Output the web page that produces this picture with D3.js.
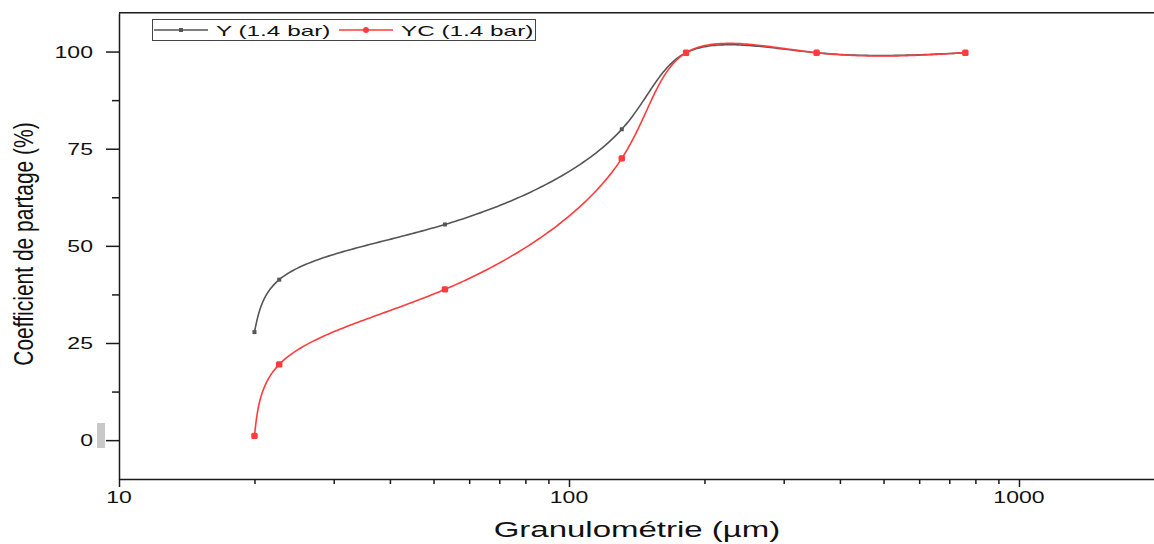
<!DOCTYPE html>
<html>
<head>
<meta charset="utf-8">
<script src="https://cdn.jsdelivr.net/npm/d3@7"></script>
<style>
  html, body { margin: 0; padding: 0; background: #fff; }
  svg { display: block; font-family: "Liberation Sans", Arial, sans-serif; }
</style>
</head>
<body>
<svg id="chart" width="1154" height="544"></svg>
<script>
// Particle size (µm) and partition coefficient (%) for both runs
const sizes   = [20, 22.7, 53, 131, 182, 355, 760];
const seriesY  = [27.8, 41.3, 55.5, 80.0, 99.7, 99.7, 99.7];
const seriesYC = [1.1, 19.5, 38.8, 72.5, 99.7, 99.7, 99.7];
const seriesNames = ["Y (1.4 bar)", "YC (1.4 bar)"];
const yTickVals = [0, 25, 50, 75, 100];
const yMinorVals = [12.5, 37.5, 62.5, 87.5];
const xTickVals = [10, 100, 1000];
const xMinorVals = [20, 30, 40, 50, 60, 70, 80, 90, 200, 300, 400, 500, 600, 700, 800, 900, 2000];

const svg = d3.select("#chart");
const plot = { left: 119, top: 12.7, bottom: 479 };
const decade = 450;
const sx = 1.44; // horizontal stretch used by all text

const x = d3.scaleLog().domain([10, 2000])
  .range([plot.left, plot.left + decade * Math.log10(200)]);
const y = d3.scaleLinear().domain([-10, 110]).range([plot.bottom, plot.top]);

const axisColor = "#1a1a1a";

// Natural cubic spline coefficients (second derivatives) for values V over knots T
function splineM(T, V) {
  const n = T.length;
  const h = d3.range(n - 1).map(i => T[i + 1] - T[i]);
  const a = new Array(n).fill(0), b = new Array(n).fill(1),
        c = new Array(n).fill(0), r = new Array(n).fill(0);
  for (let i = 1; i < n - 1; i++) {
    a[i] = h[i - 1]; b[i] = 2 * (h[i - 1] + h[i]); c[i] = h[i];
    r[i] = 6 * ((V[i + 1] - V[i]) / h[i] - (V[i] - V[i - 1]) / h[i - 1]);
  }
  const cp = new Array(n).fill(0), rp = new Array(n).fill(0);
  cp[0] = c[0] / b[0]; rp[0] = r[0] / b[0];
  for (let i = 1; i < n; i++) {
    const m = b[i] - a[i] * cp[i - 1];
    cp[i] = c[i] / m; rp[i] = (r[i] - a[i] * rp[i - 1]) / m;
  }
  const M = new Array(n).fill(0);
  M[n - 1] = rp[n - 1];
  for (let i = n - 2; i >= 0; i--) M[i] = rp[i] - cp[i] * M[i + 1];
  return { h, M };
}
function splineAt(T, V, S, i, t) {
  const h = S.h[i], A = (T[i + 1] - t) / h, B = (t - T[i]) / h;
  return A * V[i] + B * V[i + 1] + ((A * A * A - A) * S.M[i] + (B * B * B - B) * S.M[i + 1]) * h * h / 6;
}
// Parametric spline through screen points, centripetal knot spacing
function smoothPath(P, steps) {
  const T = [0];
  for (let i = 1; i < P.length; i++)
    T.push(T[i - 1] + Math.sqrt(Math.hypot(P[i][0] - P[i - 1][0], P[i][1] - P[i - 1][1])));
  const X = P.map(p => p[0]), Y = P.map(p => p[1]);
  const SX = splineM(T, X), SY = splineM(T, Y);
  const out = [];
  for (let i = 0; i < P.length - 1; i++)
    for (let k = 0; k < steps; k++) {
      const t = T[i] + (T[i + 1] - T[i]) * k / steps;
      out.push([splineAt(T, X, SX, i, t), splineAt(T, Y, SY, i, t)]);
    }
  out.push(P[P.length - 1]);
  return out;
}

// clip
svg.append("defs").append("clipPath").attr("id", "clip")
  .append("rect").attr("x", plot.left).attr("y", plot.top)
  .attr("width", 1154 - plot.left).attr("height", plot.bottom - plot.top);

// y axis
const gy = svg.append("g").attr("transform", `translate(${plot.left},0)`);
gy.call(d3.axisLeft(y).tickValues(yTickVals).tickSize(13).tickSizeOuter(0).tickFormat(""));
gy.append("g").call(d3.axisLeft(y).tickValues(yMinorVals).tickSize(7).tickSizeOuter(0).tickFormat(""))
  .select(".domain").remove();

// x axis
const gx = svg.append("g").attr("transform", `translate(0,${plot.bottom})`);
gx.call(d3.axisBottom(x).tickValues(xTickVals).tickSize(8).tickSizeOuter(0).tickFormat(""));
gx.append("g").call(d3.axisBottom(x).tickValues(xMinorVals).tickSize(5).tickSizeOuter(0).tickFormat(""))
  .select(".domain").remove();

svg.selectAll(".domain, .tick line").attr("stroke", axisColor).attr("stroke-width", 1.5);

// top frame
svg.append("line")
  .attr("x1", plot.left).attr("x2", 1154)
  .attr("y1", plot.top).attr("y2", plot.top)
  .attr("stroke", axisColor).attr("stroke-width", 1.5);

// stretched text helper
function label(g, txt, px, py, size, anchor, scale, rot) {
  return g.append("text")
    .attr("transform", `translate(${px},${py}) scale(${scale},1)` + (rot ? ` rotate(${rot})` : ""))
    .attr("text-anchor", anchor)
    .attr("font-size", size)
    .attr("fill", "#111")
    .text(txt);
}

// tick labels
yTickVals.forEach(v => label(svg, v, plot.left - 26, y(v) + 6, 16, "end", sx));
xTickVals.forEach(v => label(svg, v, x(v), plot.bottom + 24, 16, "middle", sx));

// axis titles
label(svg, "Granulométrie (µm)", 637, 537, 22, "middle", 1.5);
label(svg, "Coefficient de partage (%)", 33, 244, 21, "middle", 1.35, -90);

// small grey marker left of the 0 label
svg.append("rect").attr("x", 97).attr("y", 423).attr("width", 8).attr("height", 25)
  .attr("fill", "#c8c8c8");

// curves
const line = d3.line();
const series = [
  { name: seriesNames[0], values: seriesY, color: "#555555", marker: "square", ms: 4 },
  { name: seriesNames[1], values: seriesYC, color: "#ff3b3b", marker: "circle", ms: 3.2 }
];

const gData = svg.append("g").attr("clip-path", "url(#clip)");
series.forEach(s => {
  const pts = sizes.map((v, i) => [v, s.values[i]]);
  const screen = pts.map(d => [x(d[0]), y(d[1])]);
  gData.append("path")
    .attr("d", line(smoothPath(screen, 60)))
    .attr("fill", "none").attr("stroke", s.color).attr("stroke-width", 1.6);
  if (s.marker === "square") {
    gData.selectAll(null).data(pts).enter().append("rect")
      .attr("x", d => x(d[0]) - s.ms / 2).attr("y", d => y(d[1]) - s.ms / 2)
      .attr("width", s.ms).attr("height", s.ms).attr("fill", s.color);
  } else {
    gData.selectAll(null).data(pts).enter().append("rect")
      .attr("x", d => x(d[0]) - s.ms).attr("y", d => y(d[1]) - s.ms)
      .attr("width", s.ms * 2).attr("height", s.ms * 2).attr("rx", 1.5).attr("fill", s.color);
  }
});

// legend
const lg = svg.append("g");
lg.append("rect").attr("x", 152.5).attr("y", 19.5).attr("width", 383).attr("height", 21)
  .attr("fill", "#fff").attr("stroke", "#444").attr("stroke-width", 1);
const legendItems = [
  { s: series[0], x1: 154, x2: 208, tx: 216 },
  { s: series[1], x1: 339, x2: 393, tx: 401 }
];
legendItems.forEach(it => {
  lg.append("line").attr("x1", it.x1).attr("x2", it.x2).attr("y1", 30).attr("y2", 30)
    .attr("stroke", it.s.color).attr("stroke-width", 1.6);
  const mx = (it.x1 + it.x2) / 2;
  if (it.s.marker === "square") {
    lg.append("rect").attr("x", mx - 2).attr("y", 28).attr("width", 4).attr("height", 4).attr("fill", it.s.color);
  } else {
    lg.append("circle").attr("cx", mx).attr("cy", 30).attr("r", 3).attr("fill", it.s.color);
  }
  label(lg, it.s.name, it.tx, 36, 15, "start", 1.62);
});
</script>
</body>
</html>
